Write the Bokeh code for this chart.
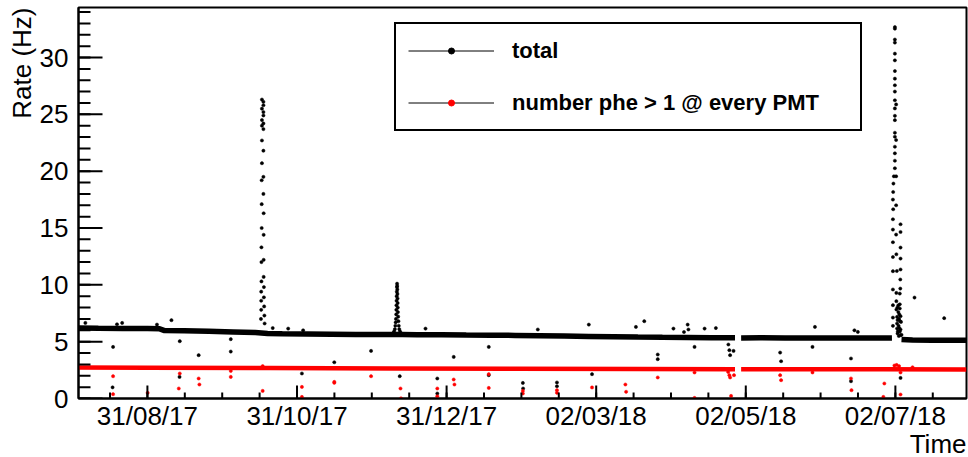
import numpy as np
import pandas as pd
from bokeh.plotting import figure
from bokeh.models import Range1d, FixedTicker, DatetimeTickFormatter, Legend, LegendItem, Title
from bokeh.embed import file_html
from bokeh.resources import INLINE

# ---------------- data (days counted from DAY0) ----------------
DAY0 = "2017-08-31"
x_start_day = -28.1
x_end_day = 334.0
y_max = 34.4

tick_dates = ["2017-08-31", "2017-10-31", "2017-12-31", "2018-03-02", "2018-05-02", "2018-07-02"]
minor_step_days = 15.25
y_ticks = [0, 5, 10, 15, 20, 25, 30]
y_minor_ticks = list(range(0, 35))

series_names = ["total", "number phe > 1 @ every PMT"]
x_title = "Time"
y_title = "Rate (Hz)"

# dense baseline band of the "total" rate
total_base_day = [-28.1, -20, -10, 0, 5, 7, 15, 25, 35, 44, 49, 55, 65, 75, 85, 95, 100, 104,
                  110, 120, 130, 140, 150, 160, 170, 180, 190, 200, 210, 220, 230, 239.6, 240.8,
                  242.1, 250, 260, 270, 280, 290, 300, 303.6, 304.8, 307.5, 312, 320, 334.0]
total_base_rate = [6.20, 6.18, 6.16, 6.15, 6.13, 5.98, 5.96, 5.92, 5.86, 5.80, 5.72, 5.70, 5.68,
                   5.66, 5.64, 5.63, 5.62, 5.62, 5.61, 5.60, 5.58, 5.57, 5.55, 5.52, 5.49, 5.46,
                   5.43, 5.40, 5.38, 5.37, 5.35, 5.35, float("nan"), 5.33, 5.34, 5.33, 5.33, 5.32,
                   5.32, 5.32, 5.33, float("nan"), 5.20, 5.15, 5.13, 5.12]

# dense baseline band of the "number phe > 1 @ every PMT" rate
sel_base_day = [-28.1, 0, 50, 100, 150, 200, 239.6, 240.8, 242.1, 300, 334.0]
sel_base_rate = [2.72, 2.71, 2.68, 2.65, 2.62, 2.60, 2.58, float("nan"), 2.58, 2.57, 2.55]

# spikes of the total rate (three bursts)
total_spike_day = [
    46.7, 46.7, 46.7, 46.7, 46.7, 46.7, 46.6, 46.6, 46.6, 46.5, 46.5, 46.5, 46.4, 46.4, 46.4, 46.3,
    47.3, 47.3, 47.3, 47.3, 47.3, 47.3, 47.3, 47.3, 47.3, 47.4, 47.4, 47.4, 47.4, 47.5, 47.5, 47.6,
    47.7, 47.8,
    100.2, 100.6, 100.9, 101.1, 101.25, 101.35, 101.45, 101.5, 101.55, 101.6, 101.65, 101.7, 101.75,
    101.8, 101.85, 101.9, 101.95, 102.0, 102.05, 102.1, 102.15, 102.25, 102.35, 102.5, 102.7, 103.0,
    103.4,
    304.8, 304.8, 304.8, 304.8, 304.8, 304.8, 304.8, 304.8, 304.8, 304.8, 304.8, 305.3, 304.8, 304.8,
    304.8, 304.8, 304.8, 305.3, 304.8, 304.8, 304.8, 304.8, 304.4, 305.3, 304.2, 304.1, 304.0, 305.3,
    304.1, 304.0, 307.1, 304.0, 307.1, 305.3, 304.0, 307.1, 305.4, 304.0, 307.1, 304.0, 305.6, 307.1,
    307.0, 304.0, 307.0, 305.4, 306.8, 312.8, 305.4, 306.8, 304.0, 305.4, 306.8, 304.0, 305.7, 307.1,
    304.0, 305.7, 307.3, 305.7, 307.1, 305.9, 307.1, 305.8, 306.2, 306.5, 306.9, 306.3, 306.6, 306.0,
    306.8, 307.5, 306.4, 305.9, 306.2, 306.6,
]
total_spike_rate = [
    26.3, 25.5, 24.5, 24.0, 22.7, 20.7, 19.2, 17.1, 15.0, 13.3, 12.0, 10.3, 9.4, 8.6, 7.8, 7.0,
    26.1, 25.8, 25.2, 24.9, 24.2, 23.7, 21.8, 19.5, 18.0, 16.3, 14.4, 12.2, 10.7, 9.8, 8.9, 8.1,
    7.3, 6.6,
    5.75, 5.9, 6.1, 6.4, 6.7, 7.0, 7.4, 7.8, 8.2, 8.6, 9.0, 9.4, 9.8,
    10.1, 9.9, 9.6, 9.2, 8.8, 8.4, 8.0, 7.6, 7.2, 6.8, 6.4, 6.1, 5.9,
    5.75,
    32.68, 32.54, 31.58, 31.31, 30.34, 29.75, 28.81, 28.14, 27.56, 27.0, 26.24, 25.87, 25.52, 24.87,
    24.49, 23.38, 23.03, 22.74, 22.15, 21.57, 20.92, 20.26, 19.55, 19.55, 18.91, 18.17, 17.5, 17.0,
    16.65, 15.77, 15.33, 14.86, 14.65, 14.42, 13.75, 13.28, 12.69, 12.45, 12.31, 11.2, 11.22, 11.35,
    10.47, 9.59, 9.67, 9.29, 9.23, 8.88, 8.56, 8.29, 8.21, 7.83, 7.92, 7.12, 7.18, 7.24,
    6.39, 6.6, 6.74, 6.16, 6.07, 5.72, 5.57, 8.0, 7.6, 7.0, 6.8, 6.4, 6.2, 5.9,
    5.9, 5.6, 5.5, 6.9, 8.2, 7.4,
]

# isolated points of the total rate
total_out_day = [-25.3, -12.4, -10.3, 3.9, 9.8, 51.1, 57.4, 63.5, 113.4, 159.2, 180.0, 199.2, 202.6,
                 214.5, 218.8, 220.3, 220.6, 227.2, 231.8, 272.2, 288.3, 289.7, 324.9,
                 -14.0, -14.2, 13.2, 13.1, 20.9, 34.0, 34.0, 63.0, 76.2, 91.2, 102.9, 118.2, 118.2,
                 124.9, 139.2, 139.2, 153.1, 153.2, 167.0, 167.0, 181.3, 208.1, 208.1, 223.1, 236.9,
                 237.3, 237.6, 239.0, 258.0, 258.4, 271.2, 286.9, 286.9, 307.1]
total_out_rate = [6.65, 6.53, 6.65, 6.5, 6.89, 6.2, 6.15, 6.0, 6.15, 6.07, 6.5, 6.3, 6.8,
                  6.15, 5.85, 6.5, 6.07, 6.15, 6.2, 6.3, 6.0, 5.86, 7.07,
                  4.54, 0.98, 5.04, 1.90, 3.81, 5.22, 4.13, 2.2, 3.19, 4.19, 1.96, 1.76, 0.44,
                  3.66, 4.54, 2.05, 1.37, 0.88, 1.41, 1.08, 2.14, 3.87, 3.46, 4.54, 4.75,
                  4.25, 3.81, 4.19, 4.04, 3.28, 4.54, 3.52, 1.52, 1.81]

# isolated points of the "number phe > 1 @ every PMT" rate
sel_out_day = [-14.0, -14.0, 0.1, 13.2, 12.8, 20.9, 21.2, 34.0, 34.0, 47.0, 63.0, 63.0, 76.2, 76.2,
               91.2, 103.2, 103.4, 118.2, 118.2, 124.9, 125.2, 139.2, 139.2, 153.1, 153.1, 167.0,
               167.0, 181.3, 194.9, 195.2, 208.1, 223.1, 223.1, 236.8, 237.3, 237.6, 239.2, 238.0,
               258.0, 258.4, 271.2, 286.9, 287.1, 300.5, 300.1, 307.1, 307.1,
               47.0, 304.6, 305.5, 306.5, 312.0]
sel_out_rate = [1.96, 0.38, 0.5, 2.2, 0.88, 1.76, 1.23, 2.43, 1.9, 0.67, 1.02, 0.14, 1.46, 1.38,
                1.96, 0.88, 0.02, 0.88, 0.2, 1.67, 1.23, 2.14, 0.93, 0.67, 0.44, 0.73,
                0.5, 0.97, 1.23, 0.59, 1.85, 2.29, 0.05, 2.34, 2.05, 1.85, 2.05, 0.23,
                2.05, 1.61, 2.29, 1.76, 0.73, 1.32, 0.14, 0.35, 2.29,
                2.85, 2.9, 2.95, 2.85, 2.75]

# ---------------- helpers ----------------
T0_MS = pd.Timestamp(DAY0).value / 1e6
DAY_MS = 86400000.0


def to_ms(days):
    return list(T0_MS + np.asarray(days, dtype=float) * DAY_MS)


tick_ms = [pd.Timestamp(d).value / 1e6 for d in tick_dates]
minor_ms = to_ms([k * minor_step_days for k in range(-1, 22)])
x0_ms = to_ms([x_start_day])[0]
x1_ms = to_ms([x_end_day])[0]

FONT = "Liberation Sans"
RED = "#ff0000"

p = figure(width=968, height=457, x_axis_type="datetime", output_backend="svg",
           toolbar_location=None,
           x_range=Range1d(x0_ms, x1_ms), y_range=Range1d(0, y_max),
           min_border_left=78, min_border_right=2, min_border_top=7, min_border_bottom=59)
p.background_fill_color = "white"
p.border_fill_color = "white"
p.xgrid.visible = False
p.ygrid.visible = False
p.outline_line_color = "black"
p.outline_line_width = 2
p.outline_line_alpha = 1

# bands
p.line(to_ms(total_base_day), total_base_rate, line_color="black", line_width=5.5)
p.line(to_ms(sel_base_day), sel_base_rate, line_color=RED, line_width=4.5)

# points
p.scatter(to_ms(total_spike_day), total_spike_rate, size=3.2, marker="circle",
          fill_color="black", line_color="black", line_width=0.5)
p.scatter(to_ms(total_out_day), total_out_rate, size=3.2, marker="circle",
          fill_color="black", line_color="black", line_width=0.5)
p.scatter(to_ms(sel_out_day), sel_out_rate, size=3.2, marker="circle",
          fill_color=RED, line_color=RED, line_width=0.5)

# inward ticks (ROOT style): dash markers centred on the axes, half clipped by the frame
p.scatter(tick_ms, [0] * len(tick_ms), marker="dash", angle=np.pi / 2, size=26,
          line_color="black", line_width=2)
p.scatter(minor_ms, [0] * len(minor_ms), marker="dash", angle=np.pi / 2, size=12,
          line_color="black", line_width=2)
p.scatter([x0_ms] * len(y_ticks), y_ticks, marker="dash", size=48,
          line_color="black", line_width=2)
p.scatter([x0_ms] * len(y_minor_ticks), y_minor_ticks, marker="dash", size=24,
          line_color="black", line_width=2)

# axes
xa = p.xaxis[0]
xa.ticker = FixedTicker(ticks=tick_ms, minor_ticks=minor_ms)
fmt = "%d/%m/%y"
xa.formatter = DatetimeTickFormatter(microseconds=fmt, milliseconds=fmt, seconds=fmt, minsec=fmt,
                                     minutes=fmt, hourmin=fmt, hours=fmt, days=fmt,
                                     months=fmt, years=fmt)
ya = p.yaxis[0]
ya.ticker = FixedTicker(ticks=y_ticks, minor_ticks=y_minor_ticks)

for ax in (xa, ya):
    ax.axis_line_color = "black"
    ax.axis_line_width = 2
    ax.major_tick_line_color = None
    ax.minor_tick_line_color = None
    ax.major_tick_in = 0
    ax.major_tick_out = 0
    ax.minor_tick_in = 0
    ax.minor_tick_out = 0
    ax.major_label_text_font = FONT
    ax.major_label_text_font_size = "26px"
    ax.major_label_text_color = "black"

xa.major_label_standoff = 2
ya.major_label_standoff = 10

# axis titles at the end of the axes (ROOT style)
p.add_layout(Title(text=x_title, align="right", vertical_align="top", text_font=FONT,
                   text_font_size="26px", text_font_style="normal", text_color="black",
                   standoff=-10), "below")
p.add_layout(Title(text=y_title, align="right", text_font=FONT, text_font_size="26px",
                   text_font_style="normal", text_color="black", standoff=0), "left")

# legend
nan = float("nan")
leg_line = p.line([nan], [nan], line_color="black", line_width=1)
leg_dot_total = p.scatter([nan], [nan], marker="circle", size=6, fill_color="black",
                          line_color="black")
leg_dot_sel = p.scatter([nan], [nan], marker="circle", size=6, fill_color=RED, line_color=RED)

legend = Legend(items=[LegendItem(label=series_names[0], renderers=[leg_line, leg_dot_total]),
                       LegendItem(label=series_names[1], renderers=[leg_line, leg_dot_sel])],
                location=(316, 267), orientation="vertical")
legend.margin = 0
legend.padding = 12
legend.spacing = 23
legend.glyph_width = 86
legend.glyph_height = 15
legend.label_height = 29
legend.label_width = 336
legend.label_standoff = 18
legend.label_text_font = FONT
legend.label_text_font_style = "bold"
legend.label_text_font_size = "22px"
legend.label_text_color = "black"
legend.border_line_color = "black"
legend.border_line_width = 2
legend.border_line_alpha = 1
legend.background_fill_color = "white"
legend.background_fill_alpha = 1
p.add_layout(legend)

open("out.html", "w").write(file_html(p, INLINE))
